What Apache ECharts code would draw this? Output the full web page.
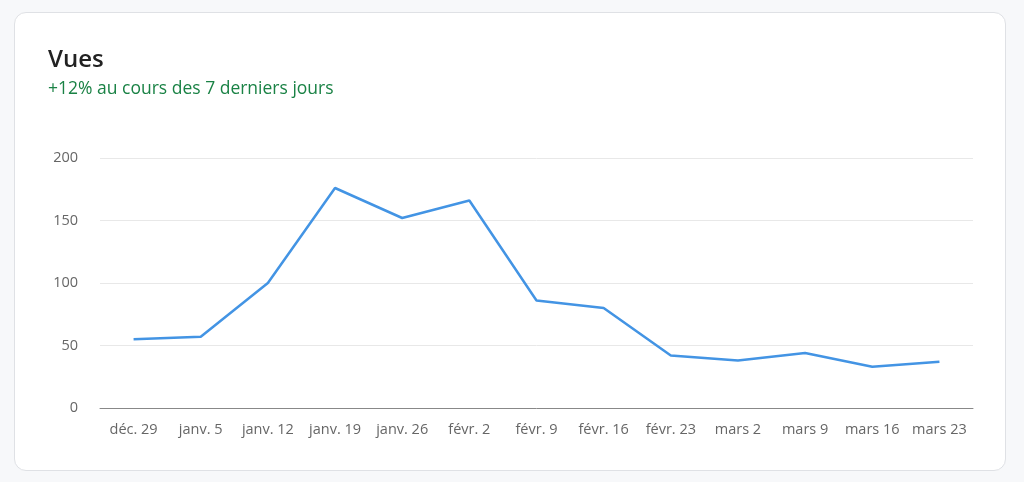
<!DOCTYPE html>
<html><head><meta charset="utf-8">
<script src="https://cdn.jsdelivr.net/npm/echarts@6/dist/echarts.min.js"></script>
<style>
html,body{margin:0;padding:0;background:#f7f8fa;width:1024px;height:482px;overflow:hidden;font-family:"Open Sans","Noto Sans",sans-serif;}
#card{position:absolute;left:14px;top:12px;width:992px;height:459px;background:#fff;border:1px solid #dfe1e5;border-radius:12px;box-sizing:border-box;}
#chart{position:absolute;left:0;top:0;width:1024px;height:482px;}
</style></head><body>
<div id="card"></div>
<div id="chart"></div>
<script>
const categories = ["déc. 29","janv. 5","janv. 12","janv. 19","janv. 26","févr. 2","févr. 9","févr. 16","févr. 23","mars 2","mars 9","mars 16","mars 23"];
const views = [55,57,100,176,152,166,86,80,42,38,44,33,37];
const titleText = "Vues";
const subtitleText = "+12% au cours des 7 derniers jours";
const chart = echarts.init(document.getElementById('chart'));
chart.setOption({
  animation:false,
  title:{text:titleText,subtext:subtitleText,left:43,top:43,itemGap:8,
    textStyle:{fontSize:24,fontWeight:600,color:'#222',fontFamily:'Open Sans'},
    subtextStyle:{fontSize:17.5,color:'#1a8245',fontFamily:'Open Sans'}},
  grid:{left:100,right:51,top:158,bottom:74},
  xAxis:{type:'category',data:categories,boundaryGap:true,
    axisLine:{lineStyle:{color:'#888'}},axisTick:{show:false},
    axisLabel:{interval:0,color:'#666',fontSize:14.5,margin:14,fontFamily:'Open Sans'}},
  yAxis:{type:'value',min:0,max:200,interval:50,
    axisLabel:{color:'#666',fontSize:14.5,margin:22,fontFamily:'Open Sans'},
    splitLine:{lineStyle:{color:'#e8e8e8'}}},
  series:[{type:'line',data:views,symbol:'none',lineStyle:{color:'#4394e4',width:2.5}}]
});
</script></body></html>
